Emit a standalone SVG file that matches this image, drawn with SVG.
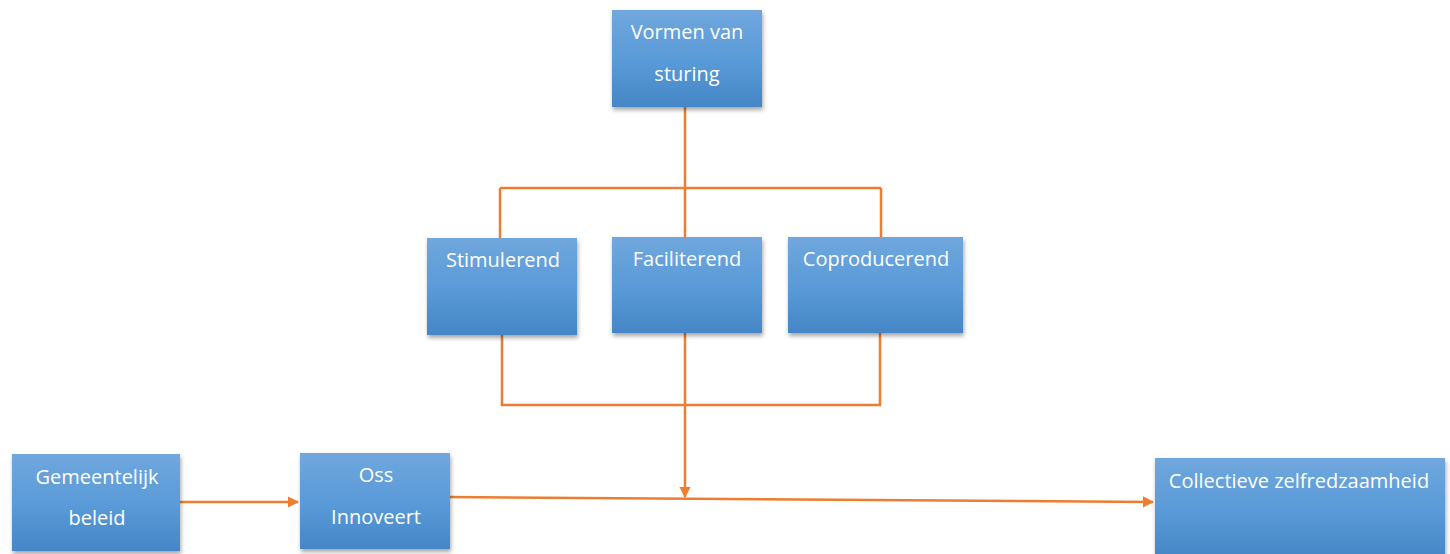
<svg xmlns="http://www.w3.org/2000/svg" width="1450" height="554" viewBox="0 0 1450 554">
<defs>
<linearGradient id="g" x1="0" y1="0" x2="0" y2="1">
<stop offset="0" stop-color="#70a7dd"/>
<stop offset="0.5" stop-color="#5b9bd9"/>
<stop offset="1" stop-color="#4586c6"/>
</linearGradient>
<filter id="sh" x="-10%" y="-10%" width="125%" height="130%">
<feDropShadow dx="1" dy="3" stdDeviation="2" flood-color="#000" flood-opacity="0.35"/>
</filter>
<marker id="ah" viewBox="0 0 10 10" refX="9" refY="5" markerWidth="4.5" markerHeight="4.5" orient="auto" markerUnits="strokeWidth">
<path d="M0,0 L10,5 L0,10 z" fill="#ed7d31"/>
</marker>
</defs>
<style>
.box{fill:url(#g);filter:url(#sh)}
.t{font-family:"Open Sans","Liberation Sans",sans-serif;font-size:20px;fill:#fff;text-anchor:middle}
.c{stroke:#ed7d31;stroke-width:2.5;fill:none}
</style>
<rect width="1450" height="554" fill="#fff"/>
<g id="connectors">
<path class="c" d="M685,107 L685,188"/>
<path class="c" d="M500,188 L881,188"/>
<path class="c" d="M500,188 L500,238"/>
<path class="c" d="M685,188 L685,237"/>
<path class="c" d="M881,188 L881,237"/>
<path class="c" d="M502,335 L502,405 L880,405 L880,333"/>
<path class="c" d="M685,333 L685,405"/>
<path class="c" d="M685,405 L685,497" marker-end="url(#ah)"/>
<path class="c" d="M180,502 L298,502" marker-end="url(#ah)"/>
<path class="c" d="M450,497 L1153,502" marker-end="url(#ah)"/>
</g>
<g id="n-vormen">
<rect class="box" x="612" y="10" width="150" height="97"/>
<text class="t" x="687" y="39">Vormen van</text>
<text class="t" x="687" y="81">sturing</text>
</g>
<g id="n-stimulerend">
<rect class="box" x="427" y="238" width="150" height="97"/>
<text class="t" x="503" y="267">Stimulerend</text>
</g>
<g id="n-faciliterend">
<rect class="box" x="612" y="237" width="150" height="96"/>
<text class="t" x="687" y="266">Faciliterend</text>
</g>
<g id="n-coproducerend">
<rect class="box" x="788" y="237" width="175" height="96"/>
<text class="t" x="876" y="266">Coproducerend</text>
</g>
<g id="n-gemeentelijk">
<rect class="box" x="12" y="454" width="168" height="97"/>
<text class="t" x="97" y="484">Gemeentelijk</text>
<text class="t" x="97" y="525">beleid</text>
</g>
<g id="n-oss">
<rect class="box" x="300" y="453" width="150" height="96"/>
<text class="t" x="376" y="482">Oss</text>
<text class="t" x="376" y="524">Innoveert</text>
</g>
<g id="n-collectieve">
<rect class="box" x="1155" y="458" width="290" height="100"/>
<text class="t" x="1299" y="488">Collectieve zelfredzaamheid</text>
</g>
</svg>
